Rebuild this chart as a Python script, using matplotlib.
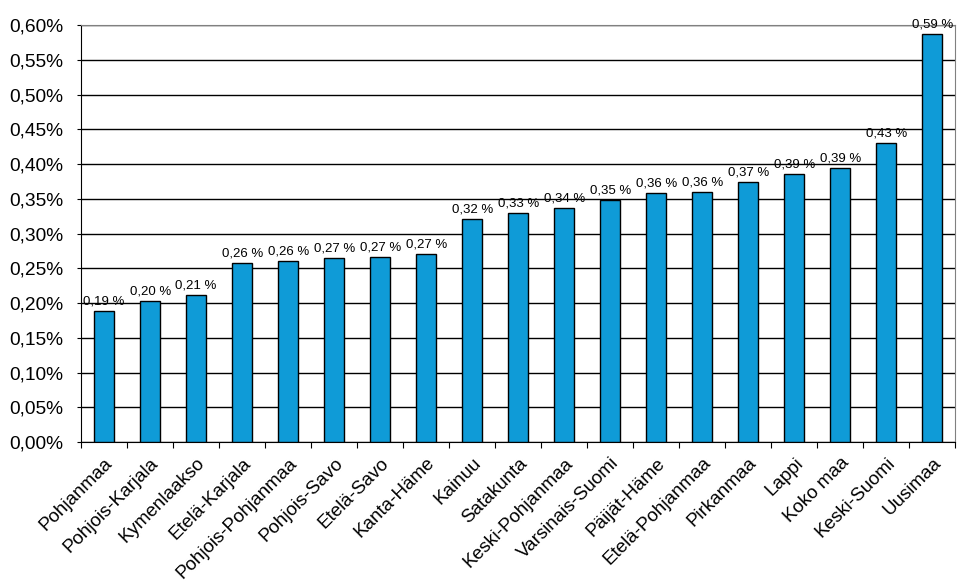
import numpy as np
import matplotlib.pyplot as plt
from matplotlib.ticker import FuncFormatter

plt.rcParams['font.family'] = ['Liberation Sans', 'DejaVu Sans']

regions = ['Pohjanmaa', 'Pohjois-Karjala', 'Kymenlaakso', 'Etelä-Karjala',
           'Pohjois-Pohjanmaa', 'Pohjois-Savo', 'Etelä-Savo', 'Kanta-Häme',
           'Kainuu', 'Satakunta', 'Keski-Pohjanmaa', 'Varsinais-Suomi',
           'Päijät-Häme', 'Etelä-Pohjanmaa', 'Pirkanmaa', 'Lappi', 'Koko maa',
           'Keski-Suomi', 'Uusimaa']
values = [0.189, 0.203, 0.212, 0.258, 0.261, 0.265, 0.266, 0.271,
          0.321, 0.330, 0.337, 0.348, 0.358, 0.360, 0.374, 0.386, 0.394,
          0.430, 0.587]

fig = plt.figure(figsize=(9.66, 5.87), dpi=100)
ax = fig.add_axes([0.084, 0.247, 0.905, 0.71])

x = np.arange(len(regions))
bars = ax.bar(x, values, width=0.43, color='#0F9BD7', edgecolor='black',
              linewidth=1, zorder=3)

for xi, v in zip(x, values):
    ax.text(xi, v + 0.005, '{:.2f} %'.format(v).replace('.', ','),
            ha='center', va='bottom', fontsize=9.5, zorder=4)

ax.set_xlim(-0.5, len(regions) - 0.5)
ax.set_ylim(0, 0.6)
ax.set_yticks(np.arange(0, 0.61, 0.05))
ax.yaxis.set_major_formatter(FuncFormatter(lambda v, p: '{:.2f}%'.format(v).replace('.', ',')))
ax.grid(axis='y', color='black', linewidth=1, zorder=0)

# separator ticks between bars, labels at bar centres
ax.set_xticks(np.arange(len(regions) + 1) - 0.5, minor=False)
ax.set_xticklabels([])
ax.set_xticks(x, minor=True)
ax.set_xticklabels(regions, minor=True, rotation=45, ha='right',
                   rotation_mode='anchor', fontsize=13.5)
ax.tick_params(axis='x', which='minor', length=0, pad=9)
ax.tick_params(axis='x', which='major', length=4, color='black')
ax.tick_params(axis='y', length=3, labelsize=13.8, pad=10)

ax.spines['left'].set_color('black')
ax.spines['bottom'].set_color('black')
ax.spines['top'].set_color('#808080')
ax.spines['right'].set_color('#808080')

plt.savefig('out.png', dpi=100)
